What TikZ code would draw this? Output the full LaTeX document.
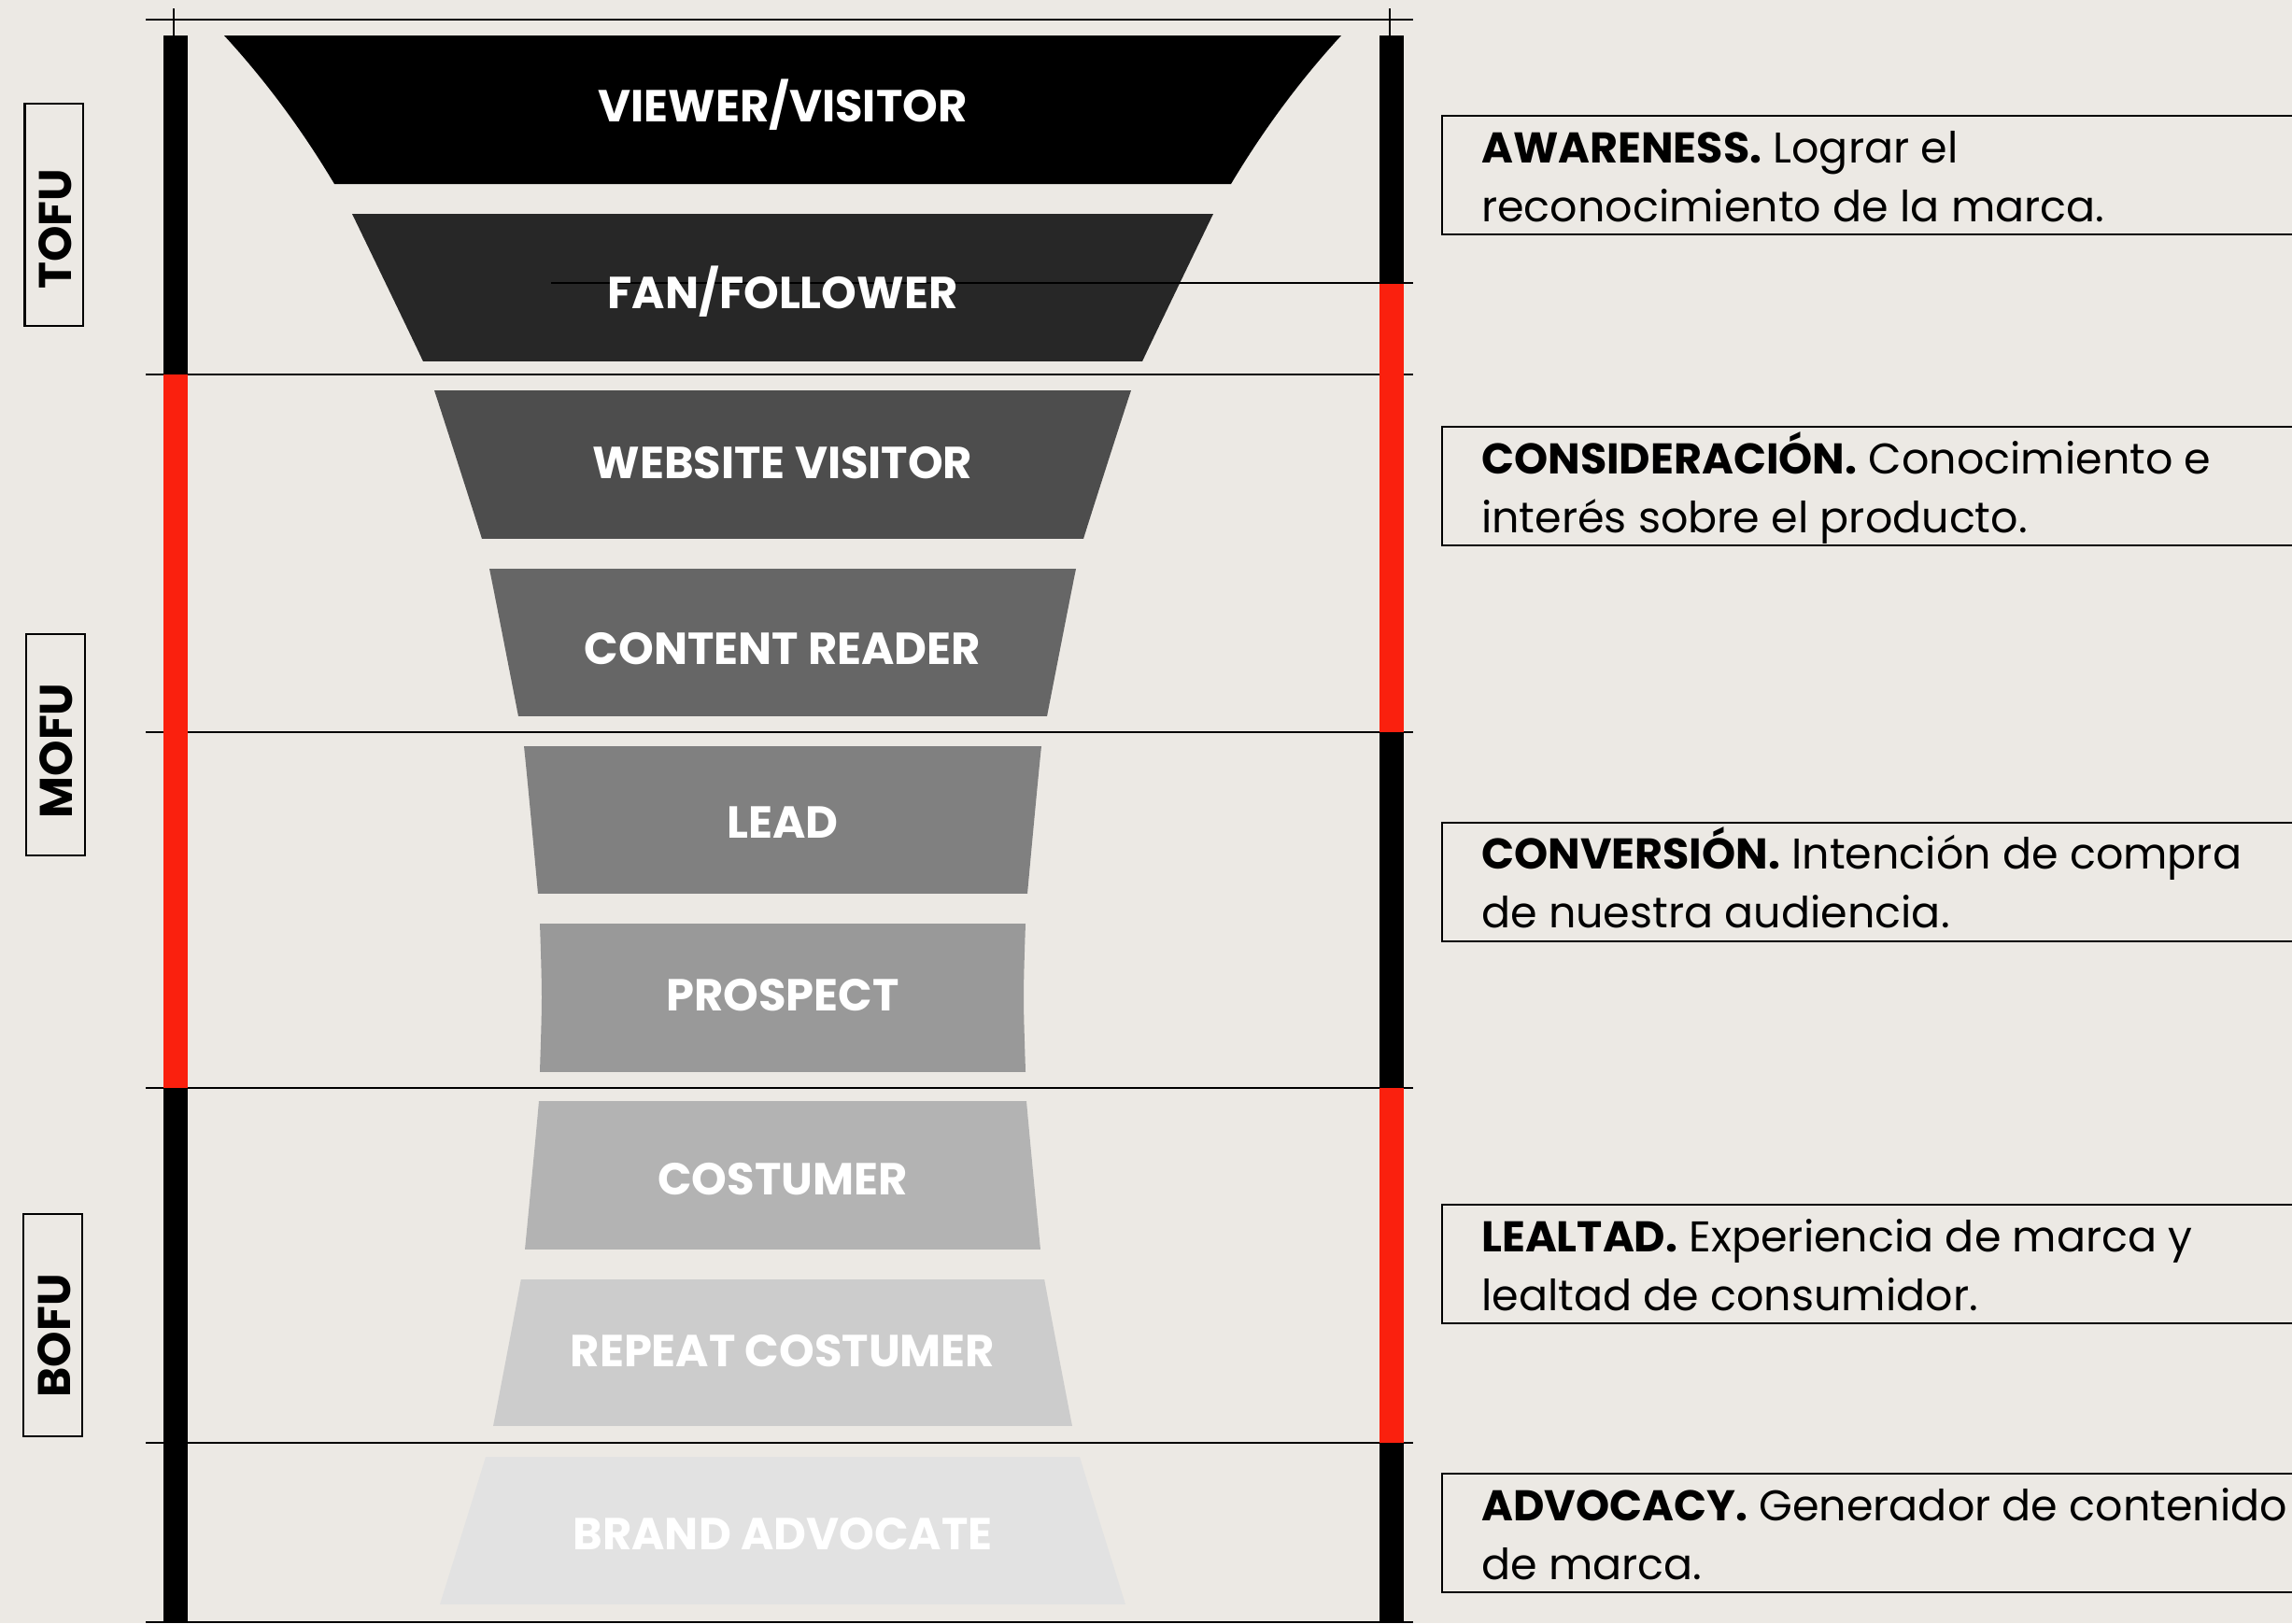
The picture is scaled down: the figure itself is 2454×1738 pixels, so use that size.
\documentclass[tikz,border=0pt]{standalone}
\usepackage{fontspec}
\setmainfont{Poppins}
\definecolor{bg}{RGB}{236,233,228}
\definecolor{redbar}{RGB}{250,32,14}
\definecolor{c1}{RGB}{0,0,0}
\definecolor{c2}{RGB}{39,39,39}
\definecolor{c3}{RGB}{77,77,77}
\definecolor{c4}{RGB}{102,102,102}
\definecolor{c5}{RGB}{128,128,128}
\definecolor{c6}{RGB}{153,153,153}
\definecolor{c7}{RGB}{179,179,179}
\definecolor{c8}{RGB}{204,204,204}
\definecolor{c9}{RGB}{226,226,226}
\begin{document}
\begin{tikzpicture}[x=1pt,y=-1pt,
  hrule/.style={line width=2.5pt,black},
  tickline/.style={line width=2pt,black},
  boxline/.style={line width=2.5pt,black},
  funlabel/.style={font=\fontsize{48}{48}\selectfont\bfseries,text=white,anchor=base,inner sep=0pt},
  bodytxt/.style={font=\fontsize{46}{46}\selectfont,anchor=base west,inner sep=0pt},
  sidelbl/.style={font=\fontsize{49}{49}\selectfont\bfseries,rotate=90,anchor=base,inner sep=0pt}]
\useasboundingbox (0,0) rectangle (2454,1738);
\fill[bg] (0,0) rectangle (2454,1738);
% horizontal rules
\foreach \yy in {21,401,784,1165,1545,1737}
  \draw[hrule] (156,\yy) -- (1513,\yy);
\draw[tickline] (186,9) -- (186,38);
\draw[tickline] (1488,9) -- (1488,38);
% left bar
\fill[black] (175,38) rectangle (201,401);
\fill[redbar] (175,401) rectangle (201,1165);
\fill[black] (175,1165) rectangle (201,1738);
% right bar
\fill[black] (1477,38) rectangle (1503,303);
\fill[redbar] (1477,303) rectangle (1503,784);
\fill[black] (1477,784) rectangle (1503,1165);
\fill[redbar] (1477,1165) rectangle (1503,1545);
\fill[black] (1477,1545) rectangle (1503,1738);
% funnel: top segment
\fill[c1] (240,38) .. controls (285,87) and (324,140) .. (358,197) -- (1318,197)
  .. controls (1352,140) and (1391,87) .. (1436,38) -- cycle;
% funnel: remaining segments cut from one envelope
\begin{scope}
\clip plot[smooth,tension=0.5] coordinates {(377,229) (453,387) (465,418) (516,577) (524,609) (555,767) (561,799) (576,957) (578,989) (580,1068) (578,1148) (577,1179) (562,1338) (558,1369) (528,1527) (520,1560) (471,1718)}
  -- plot[smooth,tension=0.5] coordinates {(1205,1718) (1156,1560) (1148,1527) (1118,1369) (1114,1338) (1099,1179) (1098,1148) (1096,1068) (1098,989) (1100,957) (1115,799) (1121,767) (1152,609) (1160,577) (1211,418) (1223,387) (1299,229)} -- cycle;
\fill[c2] (0,229) rectangle (1700,387);
\fill[c3] (0,418) rectangle (1700,577);
\fill[c4] (0,609) rectangle (1700,767);
\fill[c5] (0,799) rectangle (1700,957);
\fill[c6] (0,989) rectangle (1700,1148);
\fill[c7] (0,1179) rectangle (1700,1338);
\fill[c8] (0,1369.5) rectangle (1700,1527);
\fill[c9] (0,1560) rectangle (1700,1718);
\end{scope}
\draw[hrule] (590,303) -- (1513,303);
% funnel labels
\node[funlabel] (l1) at (838,130) {VIEWER/VISITOR};
\node[funlabel] (l2) at (838,330) {FAN/FOLLOWER};
\node[funlabel] (l3) at (838,512) {WEBSITE VISITOR};
\node[funlabel] (l4) at (838,711) {CONTENT READER};
\node[funlabel] (l5) at (838,897) {LEAD};
\node[funlabel] (l6) at (838,1082) {PROSPECT};
\node[funlabel] (l7) at (838,1279) {COSTUMER};
\node[funlabel] (l8) at (838,1463) {REPEAT COSTUMER};
\node[funlabel] (l9) at (838,1659) {BRAND ADVOCATE};
% side boxes
\draw[boxline] (26.5,111) rectangle (89,349);
\draw[boxline] (28,679) rectangle (91,916);
\draw[boxline] (25,1300) rectangle (88,1538);
\node[sidelbl] (tofu) at (76,245.5) {TOFU};
\node[sidelbl] (mofu) at (77,804) {MOFU};
\node[sidelbl] (bofu) at (75,1430.5) {BOFU};
% right boxes
\foreach \tp in {124,457,881,1290,1578}
  \draw[boxline] (2460,\tp) -| (1544,\tp+127) -- (2460,\tp+127);
\node[bodytxt] (b1a) at (1586,174) {\textbf{AWARENESS.} Lograr el};
\node[bodytxt] (b1b) at (1586,237) {reconocimiento de la marca.};
\node[bodytxt] (b2a) at (1586,507) {\textbf{CONSIDERACIÓN.} Conocimiento e};
\node[bodytxt] (b2b) at (1586,570) {interés sobre el producto.};
\node[bodytxt] (b3a) at (1586,930) {\textbf{CONVERSIÓN.} Intención de compra};
\node[bodytxt] (b3b) at (1586,993) {de nuestra audiencia.};
\node[bodytxt] (b4a) at (1586,1340) {\textbf{LEALTAD.} Experiencia de marca y};
\node[bodytxt] (b4b) at (1586,1403) {lealtad de consumidor.};
\node[bodytxt] (b5a) at (1586,1628) {\textbf{ADVOCACY.} Generador de contenido};
\node[bodytxt] (b5b) at (1586,1691) {de marca.};
\end{tikzpicture}
\end{document}
